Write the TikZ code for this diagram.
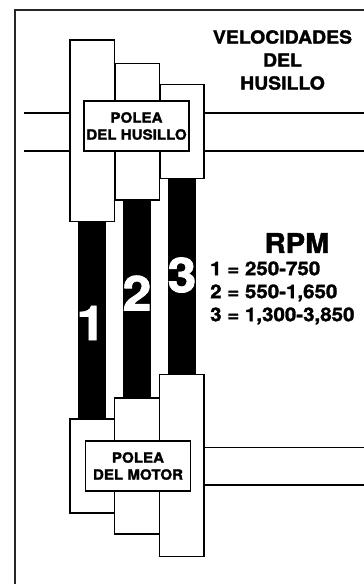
\documentclass[tikz,border=0pt]{standalone}
\usepackage{fontspec}
\setmainfont[BoldFeatures={FakeBold=1.6,FakeStretch=1.08}]{TeX Gyre Heros}
\begin{document}
\begin{tikzpicture}[x=1pt,y=-1pt,
 pulley/.style={draw=black,line width=1.3pt,fill=white},
 shaft/.style={draw=black,line width=1.3pt},
 belt/.style={fill=black},
 lab/.style={draw=black,line width=1.5pt,fill=white,align=center,font=\bfseries\fontsize{14}{17}\selectfont,inner sep=0pt},
 big/.style={font=\bfseries\fontsize{48}{48}\selectfont,text=white,inner sep=0pt},
 head/.style={font=\bfseries\fontsize{18}{23}\selectfont,align=center,inner sep=0pt},
 rpm/.style={font=\bfseries\fontsize{19}{23}\selectfont,align=left,inner sep=0pt,anchor=west}]
\useasboundingbox (0,0) rectangle (364,584);
\fill[white] (0,0) rectangle (364,584);
\draw[line width=2pt,draw=black!85] (14.5,584.5) -- (14.5,9.5) -- (364.5,9.5);
\coordinate (sl1) at (24,113); \coordinate (sl2) at (24,151);
\coordinate (sr1) at (364,113); \coordinate (sr2) at (364,151);
\coordinate (ml1) at (204,447.5); \coordinate (ml2) at (204,485);
\coordinate (mr1) at (364,447.5); \coordinate (mr2) at (364,485);
\draw[shaft] (sl1) -- (70,113); \draw[shaft] (sl2) -- (70,151);
\draw[shaft] (204,113) -- (sr1); \draw[shaft] (204,151) -- (sr2);
\draw[shaft] (ml1) -- (mr1); \draw[shaft] (ml2) -- (mr2);
\fill[belt] (78,221) rectangle (105.5,420);
\fill[belt] (123,200) rectangle (150.5,399);
\fill[belt] (168,178) rectangle (195.5,376);
\draw[pulley] (160,84.5) rectangle (204,178.5);
\draw[pulley] (115,63.5) rectangle (159.5,200);
\draw[pulley] (70,40) rectangle (114.5,221.5);
\draw[pulley] (70,419) rectangle (114.5,513);
\draw[pulley] (114.5,398) rectangle (159.5,534);
\draw[pulley] (159.5,374.5) rectangle (204,556.5);
\node[lab,minimum width=105pt,minimum height=50pt] (husillo) at (136.5,126) {POLEA\\DEL HUSILLO};
\node[lab,minimum width=105pt,minimum height=50pt] (motor) at (138,466) {POLEA\\DEL MOTOR};
\node[big] (n1) at (91,323) {1};
\node[big] (n2) at (137,293) {2};
\node[big] (n3) at (182,275) {3};
\node[head] (title) at (282.5,60) {VELOCIDADES\\DEL\\HUSILLO};
\node[font=\bfseries\fontsize{27}{27}\selectfont,inner sep=0pt] (r) at (297,243) {RPM};
\node[rpm] (list) at (210,293) {1 = 250-750\\2 = 550-1,650\\3 = 1,300-3,850};
\end{tikzpicture}
\end{document}
